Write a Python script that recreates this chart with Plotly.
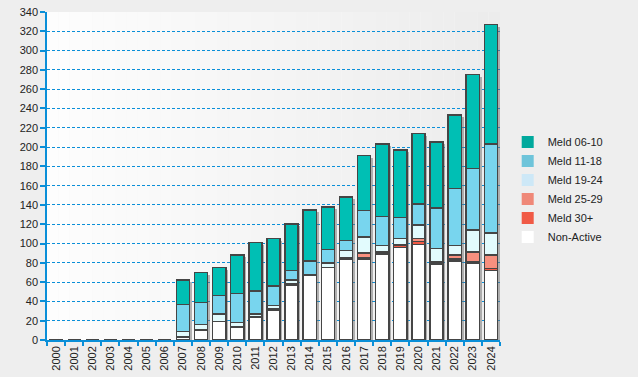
import plotly.graph_objects as go

years = [str(y) for y in range(2000, 2025)]

non_active = [0, 0, 0, 0, 0, 0, 0, 3, 10, 19, 13, 24, 31, 57, 67, 75, 84, 84, 89, 96, 99, 79, 82, 80, 72]
meld_30p   = [0, 0, 0, 0, 0, 0, 0, 0, 1, 0, 1, 0, 1, 1, 1, 0, 1, 1, 2, 2, 3, 2, 2, 1, 2]
meld_25_29 = [0, 0, 0, 0, 0, 0, 0, 0, 0, 0, 0, 0, 0, 0, 0, 0, 0, 5, 0, 1, 3, 0, 4, 10, 14]
meld_19_24 = [0, 0, 0, 0, 0, 0, 0, 6, 5, 8, 4, 3, 4, 4, 0, 5, 8, 17, 7, 6, 14, 14, 10, 23, 23]
meld_11_18 = [0, 0, 0, 0, 0, 0, 0, 28, 23, 19, 30, 24, 20, 10, 14, 14, 10, 27, 30, 22, 22, 42, 59, 64, 92]
meld_06_10 = [0, 0, 0, 0, 0, 0, 0, 25, 31, 29, 40, 50, 49, 48, 53, 44, 45, 57, 75, 70, 73, 68, 76, 97, 124]

y_ticks = list(range(0, 341, 20))

# (name, values, bar colour, legend swatch colour)
series = [
    ("Non-Active", non_active, "#ffffff", "#ffffff"),
    ("Meld 30+", meld_30p, "#f25a45", "#f05a46"),
    ("Meld 25-29", meld_25_29, "#f7907f", "#ef8878"),
    ("Meld 19-24", meld_19_24, "#e2fbfd", "#cde8f7"),
    ("Meld 11-18", meld_11_18, "#78d5ee", "#6ec4da"),
    ("Meld 06-10", meld_06_10, "#00bfb4", "#00a99d"),
]

totals = [sum(v) for v in zip(*[s[1] for s in series])]

BLUE = "#0a8fd8"
FONT = "Liberation Sans, Arial, sans-serif"

fig = go.Figure()

# drop shadow (base axes, shifted slightly right/down)
fig.add_trace(go.Bar(
    x=years, y=totals, xaxis="x", yaxis="y",
    marker=dict(color="rgba(110,110,110,0.5)", line=dict(width=0)),
    showlegend=False, hoverinfo="skip",
))

for name, vals, col, _ in series:
    fig.add_trace(go.Bar(
        x=years, y=vals, name=name, xaxis="x2", yaxis="y2", showlegend=False,
        marker=dict(color=col, line=dict(color="#454545", width=1.5)),
    ))

# borderless legend swatches
for name, _, _, lcol in series:
    fig.add_trace(go.Bar(
        x=[None], y=[None], name=name, xaxis="x2", yaxis="y2",
        marker=dict(color=lcol, line=dict(width=0)), hoverinfo="skip",
    ))

# plot-area gradient
n = 40
shapes = []
for i in range(n):
    t = i / (n - 1)
    c = int(round(253 - t * (253 - 236)))
    shapes.append(dict(type="rect", xref="paper", yref="paper",
                       x0=i / n, x1=(i + 1) / n, y0=0, y1=1,
                       fillcolor=f"rgb({c},{c},{c})", line=dict(width=0),
                       layer="below"))

px_per_cat = 453 / 25
px_per_unit = 328 / 340
dx = 2.2 / px_per_cat
dy = 2.2 / px_per_unit

fig.update_layout(
    width=638, height=377,
    autosize=False,
    margin=dict(l=47, r=138, t=12, b=37, pad=0, autoexpand=False),
    paper_bgcolor="#eeeeee",
    plot_bgcolor="#f7f7f7",
    barmode="stack",
    bargap=0.27,
    shapes=shapes,
    font=dict(family=FONT, size=11, color="#222222"),
    showlegend=True,
    legend=dict(traceorder="reversed", x=1.017, xanchor="left", y=0.459, yanchor="middle",
                bgcolor="rgba(0,0,0,0)", font=dict(size=11, family=FONT, color="#222222"),
                itemclick=False, tracegroupgap=0, itemwidth=30),
    xaxis=dict(type="category", range=[-0.5 - dx, 24.5 - dx], visible=False, automargin=False),
    yaxis=dict(range=[dy, 340 + dy], visible=False, automargin=False),
    xaxis2=dict(type="category", overlaying="x", anchor="y2", range=[-0.5, 24.5],
                showline=True, linecolor=BLUE, linewidth=1.5, automargin=False,
                ticks="outside", tickson="boundaries", ticklen=4, tickcolor=BLUE, tickwidth=1.5,
                tickangle=-90, showgrid=False, tickfont=dict(size=11, family=FONT, color="#222222")),
    yaxis2=dict(overlaying="y", anchor="x2", side="left", range=[0, 340], automargin=False,
                tickvals=y_ticks, showline=True, linecolor=BLUE, linewidth=1.5,
                ticks="outside", ticklen=5, tickcolor=BLUE, tickwidth=1.5,
                showgrid=True, gridcolor=BLUE, gridwidth=1, griddash="3px,2px",
                zeroline=False, tickfont=dict(size=11, family=FONT, color="#222222")),
)

fig.write_html("out.html", config={"displayModeBar": False},
               post_script="document.body.style.margin='0';document.body.style.padding='0';"
                           "document.body.style.background='#eeeeee';")
